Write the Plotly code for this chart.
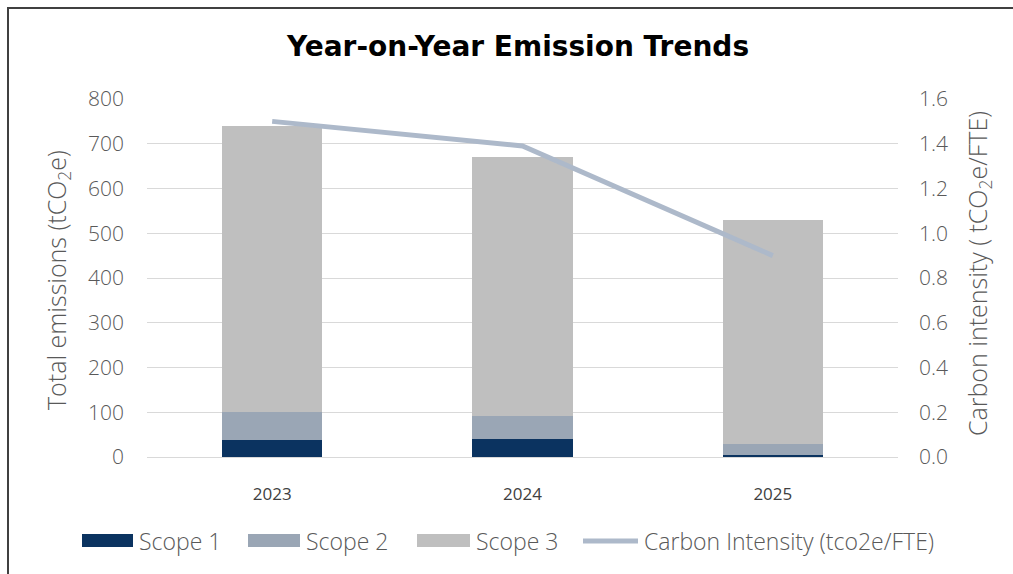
import plotly.graph_objects as go

# ---- data ----
years = ["2023", "2024", "2025"]
scope1 = [38, 41, 4]
scope2 = [63, 51, 25]
scope3 = [639, 578, 501]
intensity = [1.50, 1.39, 0.90]
series_names = ["Scope 1", "Scope 2", "Scope 3", "Carbon Intensity (tco2e/FTE)"]
left_ticks = [0, 100, 200, 300, 400, 500, 600, 700, 800]
right_ticks = [0.0, 0.2, 0.4, 0.6, 0.8, 1.0, 1.2, 1.4, 1.6]

# ---- style ----
colors = ["#0B3360", "#9AA6B5", "#BFBFBF", "#ADB9CA"]
W, H = 1013, 574
ML, MR, MT, MB = 147, 115, 99, 117
PW, PH = W - ML - MR, H - MT - MB
GREY = "#595959"
LIGHT = "Open Sans"


def px(x):
    return (x - ML) / PW


def py(y):
    return (H - MB - y) / PH


fig = go.Figure()
for name, vals, col in zip(series_names[:3], [scope1, scope2, scope3], colors[:3]):
    fig.add_trace(go.Bar(x=years, y=vals, name=name, marker=dict(color=col, line=dict(width=0)),
                         showlegend=False))
fig.add_trace(go.Scatter(x=years, y=intensity, name=series_names[3], yaxis="y2", mode="lines",
                         line=dict(color=colors[3], width=5), showlegend=False))

annotations = [
    dict(text="<b>Year-on-Year Emission Trends</b>", x=px(517), y=py(46), xref="paper", yref="paper",
         xanchor="center", yanchor="middle", showarrow=False,
         font=dict(family="DejaVu Sans", size=28, color="#000000")),
    dict(text="Total emissions (tCO<sub>2</sub>e)", x=px(57), y=py(280), xref="paper", yref="paper",
         xanchor="center", yanchor="middle", textangle=-90, showarrow=False,
         font=dict(family=LIGHT, size=25, color=GREY, weight=300)),
    dict(text="Carbon intensity ( tCO<sub>2</sub>e/FTE)", x=px(978), y=py(274), xref="paper", yref="paper",
         xanchor="center", yanchor="middle", textangle=-90, showarrow=False,
         font=dict(family=LIGHT, size=25, color=GREY, weight=300)),
]

# custom legend (wide swatches as in the reference)
sw_x = [82, 248, 417, 583]
sw_w = [51, 52, 53, 55]
shapes = []
for i, name in enumerate(series_names):
    x0, x1 = px(sw_x[i]), px(sw_x[i] + sw_w[i])
    if i < 3:
        shapes.append(dict(type="rect", xref="paper", yref="paper", x0=x0, x1=x1,
                           y0=py(547), y1=py(534), fillcolor=colors[i], line=dict(width=0)))
    else:
        shapes.append(dict(type="line", xref="paper", yref="paper", x0=x0, x1=x1,
                           y0=py(541), y1=py(541), line=dict(color=colors[i], width=5)))
    annotations.append(dict(text=name, x=px(sw_x[i] + sw_w[i] + 4), y=py(541), xref="paper", yref="paper",
                            xanchor="left", yanchor="middle", showarrow=False,
                            font=dict(family=LIGHT, size=23, color=GREY, weight=300)))

# chart frame (partly outside the visible area, as in the reference)
shapes.append(dict(type="rect", xref="paper", yref="paper", x0=px(8), x1=px(1040), y0=py(600), y1=py(8),
                   line=dict(color="#404040", width=2), fillcolor="rgba(0,0,0,0)", layer="above"))

fig.update_layout(
    width=W, height=H,
    margin=dict(l=ML, r=MR, t=MT, b=MB, autoexpand=False),
    paper_bgcolor="white", plot_bgcolor="white",
    barmode="stack", bargap=0.6,
    xaxis=dict(type="category", showgrid=False, showline=False, ticks="",
               tickfont=dict(family=LIGHT, size=17, color="#404040", weight=500), ticklabelstandoff=25),
    yaxis=dict(range=[0, 800], tickvals=left_ticks, showgrid=True, gridcolor="#D9D9D9", gridwidth=1,
               zeroline=True, zerolinecolor="#D9D9D9", zerolinewidth=1, showline=False, ticks="",
               tickfont=dict(family=LIGHT, size=21, color=GREY, weight=300), ticklabelstandoff=22),
    yaxis2=dict(range=[0, 1.6], tickvals=right_ticks, tickformat=".1f", overlaying="y", side="right",
                showgrid=False, zeroline=False, showline=False, ticks="",
                tickfont=dict(family=LIGHT, size=21, color=GREY, weight=300), ticklabelstandoff=20),
    annotations=annotations,
    shapes=shapes,
    showlegend=False,
)

fig.write_html("out.html")
